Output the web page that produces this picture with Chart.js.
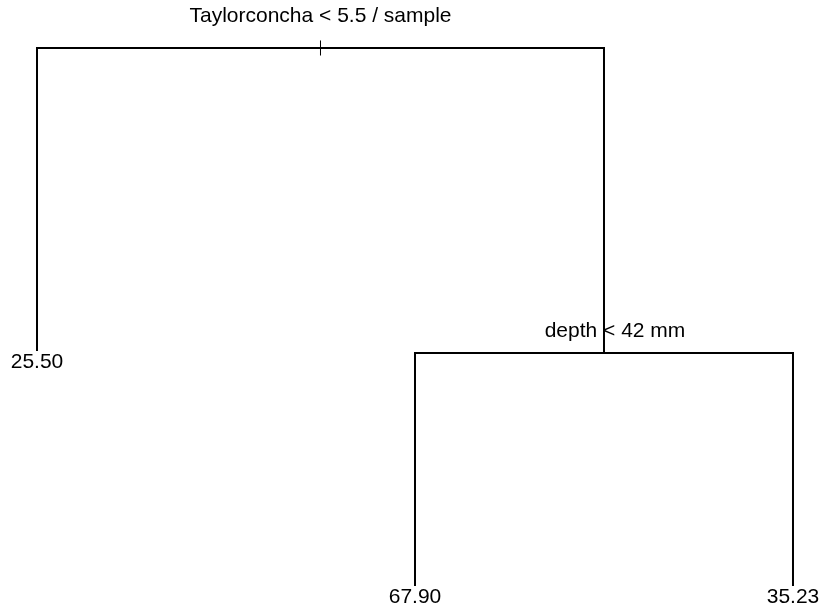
<!DOCTYPE html>
<html>
<head>
<meta charset="utf-8">
<title>Regression tree</title>
<script src="https://cdn.jsdelivr.net/npm/chart.js@4/dist/chart.umd.min.js"></script>
<style>
  html, body { margin: 0; padding: 0; background: #ffffff; }
  #wrap { width: 821px; height: 608px; }
</style>
</head>
<body>
<div id="wrap"><canvas id="tree" width="821" height="608"></canvas></div>
<script>
// Leaves, left to right: fitted mean and node height (deviance scale)
const leafLabels = ['25.50', '67.90', '35.23'];
const leafX = [1, 2, 3];
const leafHeight = [43.7, 0, 0];

// Splits: root, then the right-hand child
const splitLabels = ['Taylorconcha < 5.5 / sample', 'depth < 42 mm'];
const splitHeight = [100, 43.3];

// Split positions sit midway between their two children
const depthX = (leafX[1] + leafX[2]) / 2;
const rootX = (leafX[0] + depthX) / 2;
const splitX = [rootX, depthX];

const lineStyle = { showLine: true, pointRadius: 0, borderColor: '#000', borderWidth: 2, fill: false, tension: 0 };

const datasets = [
  // root bracket: left leaf, across, down to the depth split
  Object.assign({ data: [
    { x: leafX[0], y: leafHeight[0] },
    { x: leafX[0], y: splitHeight[0] },
    { x: depthX, y: splitHeight[0] },
    { x: depthX, y: splitHeight[1] }
  ] }, lineStyle),
  // depth bracket
  Object.assign({ data: [
    { x: leafX[1], y: leafHeight[1] },
    { x: leafX[1], y: splitHeight[1] },
    { x: leafX[2], y: splitHeight[1] },
    { x: leafX[2], y: leafHeight[2] }
  ] }, lineStyle),
  // stem mark at the root
  Object.assign({}, lineStyle, { borderWidth: 1, data: [
    { x: rootX, y: splitHeight[0] - 1.4 },
    { x: rootX, y: splitHeight[0] + 1.4 }
  ] })
];

const treeText = {
  id: 'treeText',
  afterDatasetsDraw(chart) {
    const { ctx, scales } = chart;
    const xs = scales.x, ys = scales.y;
    ctx.save();
    ctx.fillStyle = '#000';
    ctx.font = '21px "Liberation Sans", Arial, sans-serif';
    ctx.textAlign = 'center';
    ctx.textBaseline = 'alphabetic';
    // split labels above their nodes
    ctx.fillText(splitLabels[0], xs.getPixelForValue(splitX[0]), ys.getPixelForValue(splitHeight[0]) - 26);
    ctx.fillText(splitLabels[1], xs.getPixelForValue(splitX[1]) + 11, ys.getPixelForValue(splitHeight[1]) - 16);
    // leaf values below each leaf
    leafLabels.forEach((t, i) => {
      ctx.fillText(t, xs.getPixelForValue(leafX[i]), ys.getPixelForValue(leafHeight[i]) + 17);
    });
    ctx.restore();
  }
};

new Chart(document.getElementById('tree'), {
  type: 'scatter',
  data: { datasets },
  options: {
    responsive: false,
    animation: false,
    layout: { padding: 0 },
    plugins: { legend: { display: false }, tooltip: { enabled: false } },
    scales: {
      x: { type: 'linear', display: false, min: 0.9021, max: 3.0741 },
      y: { type: 'linear', display: false, min: -4.089, max: 108.92 }
    }
  },
  plugins: [treeText]
});
</script>
</body>
</html>
